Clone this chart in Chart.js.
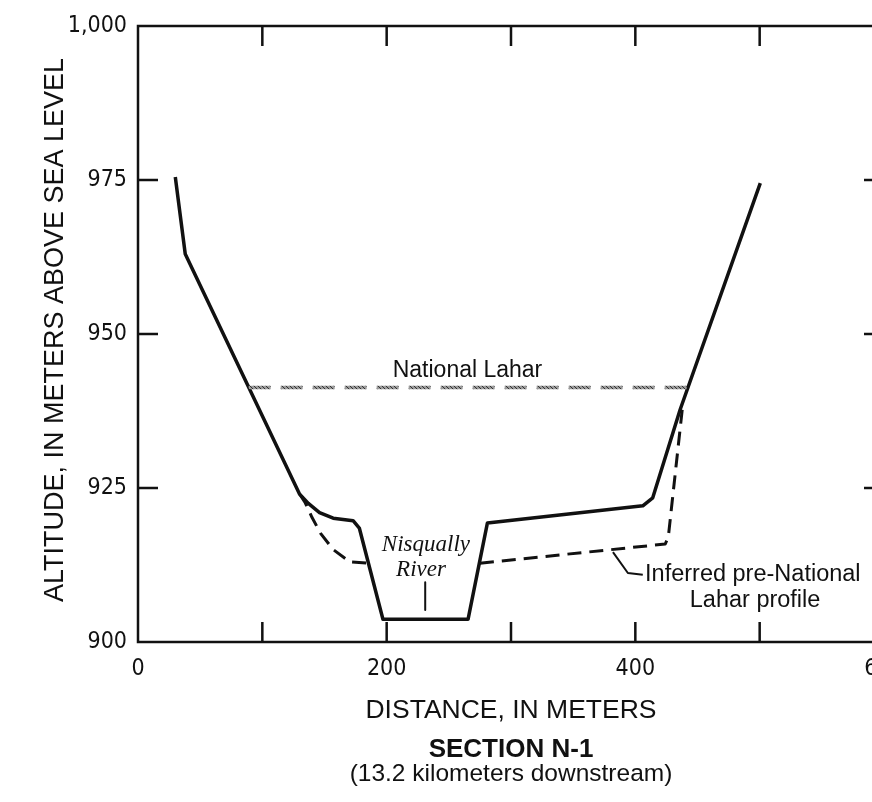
<!DOCTYPE html>
<html>
<head>
<meta charset="utf-8">
<script src="https://cdn.jsdelivr.net/npm/chart.js@4/dist/chart.umd.min.js"></script>
<style>
  html, body { margin: 0; padding: 0; background: #fff; overflow: hidden; }
  #wrap { width: 872px; height: 802px; overflow: hidden; }
</style>
</head>
<body>
<div id="wrap"><canvas id="section" width="1000" height="802"></canvas></div>
<script>
// Section N-1, Nisqually River, 13.2 km downstream

// present ground profile (solid)
const groundX = [30, 38, 130, 137, 146, 157, 173, 178, 197, 265.5, 281, 406, 414, 436, 500.5];
const groundY = [975.5, 963, 924, 922.5, 921, 920.1, 919.7, 918.5, 903.7, 903.7, 919.3, 922.1, 923.4, 937.7, 974.5];

// inferred pre-National Lahar profile (dashed), two pieces
const preLeftX = [130, 134.5, 140, 147, 157, 170.5, 184];
const preLeftY = [924, 922.6, 920.2, 917.6, 915, 913, 912.8];
const preRightX = [275, 424, 426.5, 437.7];
const preRightY = [912.8, 915.9, 917, 937.7];

// National Lahar surface
const laharX = [89, 441.5];
const laharY = [941.3, 941.3];

// small leaders
const riverTickX = [231, 231];
const riverTickY = [909.7, 905.2];
const leaderX = [382, 394, 406];
const leaderY = [914.6, 911.2, 910.9];

const xTicks = [0, 200, 400, 600];
const xMinor = [100, 200, 300, 400, 500];
const yTicks = [900, 925, 950, 975, 1000];
const yMinor = [925, 950, 975];

const pts = (xs, ys) => xs.map((x, i) => ({ x: x, y: ys[i] }));

const tickFont = "'DejaVu Sans Condensed', 'Liberation Sans Narrow', 'Liberation Sans', Arial, sans-serif";
const textFont = "'Liberation Sans', Arial, sans-serif";

// grainy grey pattern for the lahar line
const pc = document.createElement('canvas');
pc.width = 4; pc.height = 4;
const pctx = pc.getContext('2d');
pctx.fillStyle = '#9a9a9a';
pctx.fillRect(0, 0, 4, 4);
pctx.fillStyle = '#333';
for (let i = 0; i < 4; i++) pctx.fillRect(i, i, 1, 1);
const ctx = document.getElementById('section').getContext('2d');
const laharPattern = ctx.createPattern(pc, 'repeat');

const framePlugin = {
  id: 'frame',
  afterDatasetsDraw(chart) {
    const c = chart.ctx;
    const a = chart.chartArea;
    const xs = chart.scales.x, ys = chart.scales.y;
    c.save();
    c.strokeStyle = '#111';
    c.lineWidth = 2.5;
    c.strokeRect(a.left, a.top, a.right - a.left, a.bottom - a.top);
    xMinor.forEach(v => {
      const px = xs.getPixelForValue(v);
      c.beginPath();
      c.moveTo(px, a.bottom); c.lineTo(px, a.bottom - 20);
      c.moveTo(px, a.top); c.lineTo(px, a.top + 20);
      c.stroke();
    });
    yMinor.forEach(v => {
      const py = ys.getPixelForValue(v);
      c.beginPath();
      c.moveTo(a.left, py); c.lineTo(a.left + 20, py);
      c.moveTo(a.right, py); c.lineTo(a.right - 20, py);
      c.stroke();
    });

    c.fillStyle = '#111';
    c.textAlign = 'center';
    c.textBaseline = 'middle';

    c.font = "23px " + textFont;
    c.fillText('National Lahar', xs.getPixelForValue(265), ys.getPixelForValue(944));

    c.font = "italic 23px 'Liberation Serif', 'Times New Roman', serif";
    c.fillText('Nisqually', xs.getPixelForValue(231.6), ys.getPixelForValue(915.7));
    c.fillText('River', xs.getPixelForValue(227.6), ys.getPixelForValue(911.7));

    c.font = "23.5px " + textFont;
    c.textAlign = 'left';
    c.fillText('Inferred pre-National', xs.getPixelForValue(407.8), ys.getPixelForValue(910.9));
    c.textAlign = 'center';
    c.fillText('Lahar profile', xs.getPixelForValue(496.3), ys.getPixelForValue(906.8));

    // axis titles and caption
    c.font = "26.5px " + textFont;
    c.fillText('DISTANCE, IN METERS', 511, 711);
    c.font = "bold 26px " + textFont;
    c.fillText('SECTION N-1', 511, 750);
    c.font = "24.5px " + textFont;
    c.fillText('(13.2 kilometers downstream)', 511, 774);

    c.translate(56, 330);
    c.rotate(-Math.PI / 2);
    c.font = "27px " + textFont;
    c.fillText('ALTITUDE, IN METERS ABOVE SEA LEVEL', 0, 0);
    c.restore();
  }
};

const lineDs = (data, extra) => Object.assign({
  data: data,
  showLine: true,
  pointRadius: 0,
  borderColor: '#111',
  borderWidth: 3.5,
  borderJoinStyle: 'round',
  borderCapStyle: 'butt',
  tension: 0,
  fill: false
}, extra);

new Chart(ctx, {
  type: 'scatter',
  data: {
    datasets: [
      lineDs(pts(laharX, laharY), { borderColor: laharPattern, borderWidth: 3.5, borderDash: [22, 10] }),
      lineDs(pts(preLeftX, preLeftY), { borderWidth: 3, borderDash: [14, 8] }),
      lineDs(pts(preRightX, preRightY), { borderWidth: 3, borderDash: [14, 8] }),
      lineDs(pts(groundX, groundY)),
      lineDs(pts(riverTickX, riverTickY), { borderWidth: 2 }),
      lineDs(pts(leaderX, leaderY), { borderWidth: 2 })
    ]
  },
  options: {
    responsive: false,
    animation: false,
    devicePixelRatio: 1,
    layout: { padding: { top: 26, right: 116, left: 0, bottom: 0 } },
    plugins: { legend: { display: false }, tooltip: { enabled: false } },
    scales: {
      x: {
        type: 'linear',
        min: 0, max: 600,
        afterFit: s => { s.height = 160; },
        afterBuildTicks: s => { s.ticks = xTicks.map(v => ({ value: v })); },
        grid: { display: false },
        border: { display: false },
        ticks: { color: '#111', padding: 5, maxRotation: 0, font: { family: tickFont, size: 23 } }
      },
      y: {
        min: 900, max: 1000,
        afterFit: s => { s.width = 138; },
        afterBuildTicks: s => { s.ticks = yTicks.map(v => ({ value: v })); },
        grid: { display: false },
        border: { display: false },
        ticks: {
          color: '#111', padding: 3,
          font: { family: tickFont, size: 23 },
          callback: v => v.toLocaleString('en-US')
        }
      }
    }
  },
  plugins: [framePlugin]
});
</script>
</body>
</html>
